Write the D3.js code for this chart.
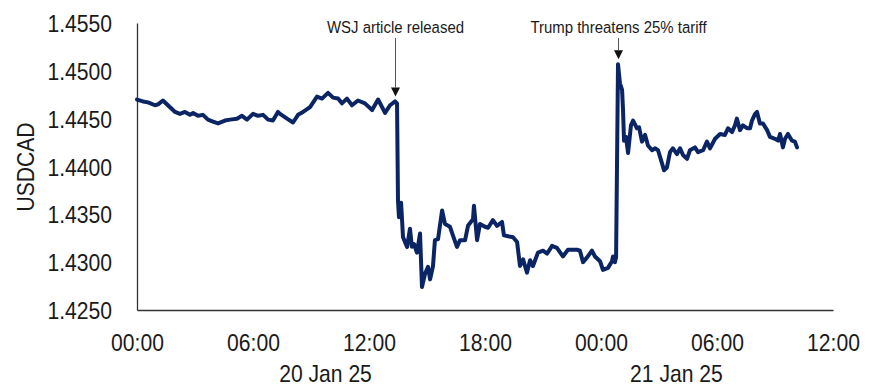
<!DOCTYPE html>
<html>
<head>
<meta charset="utf-8">
<script src="https://cdn.jsdelivr.net/npm/d3@7"></script>
<style>
  html, body { margin: 0; padding: 0; background: #fff; }
  svg { display: block; font-family: "Liberation Sans", Arial, sans-serif; }
</style>
</head>
<body>
<svg id="chart" width="877" height="387"></svg>
<script>
// USDCAD intraday, hours since 20 Jan 25 00:00
const hours = [
  0.00, 0.31, 0.57, 0.93, 1.09, 1.34, 1.60, 1.97, 2.22, 2.48, 2.74, 2.90, 3.16, 3.41, 3.67, 3.93,
  4.19, 4.55, 4.81, 5.17, 5.43, 5.69, 6.00, 6.26, 6.52, 6.78, 7.03, 7.29, 7.40, 7.76, 8.07, 8.33,
  8.59, 8.95, 9.31, 9.57, 9.88, 10.14, 10.40, 10.60, 10.86, 11.12, 11.43, 11.79, 12.16, 12.47, 12.83, 13.09,
  13.35, 13.45, 13.50, 13.55, 13.66, 13.76, 13.97, 14.12, 14.22, 14.33, 14.48, 14.64, 14.74, 14.90, 15.05, 15.16,
  15.31, 15.41, 15.57, 15.78, 15.93, 16.19, 16.34, 16.55, 16.71, 16.97, 17.12, 17.38, 17.43, 17.59, 17.74, 18.00,
  18.16, 18.41, 18.62, 18.88, 18.98, 19.45, 19.66, 19.81, 19.97, 20.17, 20.33, 20.48, 20.74, 21.00, 21.21, 21.47,
  21.72, 22.03, 22.29, 22.76, 22.91, 23.07, 23.28, 23.53, 23.69, 23.95, 24.10, 24.36, 24.57, 24.62, 24.72, 24.78,
  24.88, 24.98, 25.09, 25.14, 25.19, 25.29, 25.40, 25.55, 25.66, 25.86, 25.97, 26.12, 26.28, 26.43, 26.64, 26.79,
  26.95, 27.16, 27.26, 27.41, 27.57, 27.72, 27.93, 28.09, 28.24, 28.45, 28.60, 28.86, 29.02, 29.28, 29.48, 29.64,
  29.90, 30.16, 30.41, 30.57, 30.78, 30.93, 31.03, 31.19, 31.34, 31.55, 31.71, 31.81, 31.97, 32.07, 32.22, 32.38,
  32.59, 32.74, 33.00, 33.16, 33.26, 33.41, 33.52, 33.67, 33.88, 34.03, 34.14
];
const usdcad = [
  1.4470, 1.4468, 1.4467, 1.4464, 1.4465, 1.4469, 1.4464, 1.4457, 1.4455, 1.4457, 1.4454, 1.4456, 1.4453, 1.4454, 1.4449, 1.4447,
  1.4445, 1.4448, 1.4449, 1.4450, 1.4453, 1.4449, 1.4455, 1.4453, 1.4454, 1.4449, 1.4448, 1.4457, 1.4455, 1.4450, 1.4446, 1.4454,
  1.4457, 1.4462, 1.4473, 1.4471, 1.4477, 1.4472, 1.4471, 1.4466, 1.4471, 1.4464, 1.4469, 1.4466, 1.4459, 1.4470, 1.4456, 1.4464,
  1.4468, 1.4466, 1.4364, 1.4347, 1.4362, 1.4326, 1.4316, 1.4335, 1.4316, 1.4319, 1.4310, 1.4330, 1.4274, 1.4288, 1.4295, 1.4282,
  1.4296, 1.4323, 1.4324, 1.4354, 1.4340, 1.4337, 1.4328, 1.4316, 1.4323, 1.4323, 1.4338, 1.4345, 1.4359, 1.4323, 1.4340, 1.4337,
  1.4336, 1.4344, 1.4338, 1.4342, 1.4328, 1.4326, 1.4321, 1.4296, 1.4303, 1.4289, 1.4302, 1.4296, 1.4310, 1.4312, 1.4309, 1.4317,
  1.4315, 1.4306, 1.4313, 1.4313, 1.4312, 1.4300, 1.4305, 1.4312, 1.4306, 1.4301, 1.4292, 1.4294, 1.4301, 1.4306, 1.4300, 1.4305,
  1.4507, 1.4487, 1.4480, 1.4459, 1.4427, 1.4431, 1.4414, 1.4443, 1.4448, 1.4440, 1.4441, 1.4426, 1.4433, 1.4422, 1.4417, 1.4419,
  1.4417, 1.4403, 1.4396, 1.4399, 1.4415, 1.4419, 1.4413, 1.4419, 1.4412, 1.4408, 1.4417, 1.4420, 1.4415, 1.4417, 1.4426, 1.4419,
  1.4429, 1.4434, 1.4433, 1.4440, 1.4436, 1.4443, 1.4450, 1.4438, 1.4443, 1.4440, 1.4440, 1.4448, 1.4455, 1.4457, 1.4445, 1.4445,
  1.4438, 1.4431, 1.4429, 1.4427, 1.4434, 1.4420, 1.4429, 1.4434, 1.4427, 1.4426, 1.4420
];

const yTicks = [1.4250, 1.4300, 1.4350, 1.4400, 1.4450, 1.4500, 1.4550];
const xTicks = [0, 6, 12, 18, 24, 30, 36];
const xTickLabels = ["00:00", "06:00", "12:00", "18:00", "00:00", "06:00", "12:00"];
const dayLabels = ["20 Jan 25", "21 Jan 25"];
const dayLabelHours = [9.75, 27.9];
const eventLabels = ["WSJ article released", "Trump threatens 25% tariff"];
const eventHours = [13.35, 24.88];
const eventValues = [1.4468, 1.4507];

const W = 877, H = 387;
const m = { left: 137, right: 44, top: 23, bottom: 77 };
const squeeze = 0.88;           // condensed look for all text
const inkColor = "#1a1a1a";
const lineColor = "#0b2464";

const svg = d3.select("#chart");

const x = d3.scaleLinear().domain([0, 36]).range([m.left, W - m.right]);
const y = d3.scaleLinear().domain([1.425, 1.455]).range([H - m.bottom, m.top]);

// y axis
const yAxis = svg.append("g")
  .attr("transform", `translate(${m.left},0)`)
  .call(d3.axisLeft(y).tickValues(yTicks).tickFormat(d3.format(".4f")).tickSize(0).tickSizeOuter(0));
yAxis.select(".domain").attr("stroke", "#333").attr("stroke-width", 1.3);
yAxis.selectAll("text")
  .attr("x", -25 / squeeze)
  .attr("dy", "0.36em")
  .attr("transform", `scale(${squeeze},1)`)
  .style("font-size", "24px")
  .style("font-family", "'Liberation Sans', Arial, sans-serif")
  .attr("fill", inkColor);

// x axis
const xAxis = svg.append("g")
  .attr("transform", `translate(0,${H - m.bottom})`)
  .call(d3.axisBottom(x).tickValues(xTicks).tickFormat((d, i) => xTickLabels[i]).tickSize(0).tickSizeOuter(0));
xAxis.select(".domain").attr("stroke", "#333").attr("stroke-width", 1.3);
xAxis.selectAll("text")
  .attr("y", 0)
  .attr("dy", 0)
  .attr("transform", `translate(0,41) scale(${squeeze},1)`)
  .style("font-size", "24px")
  .style("font-family", "'Liberation Sans', Arial, sans-serif")
  .attr("fill", inkColor);

// date labels under the hour ticks
svg.append("g").selectAll("text")
  .data(dayLabels)
  .join("text")
  .attr("transform", (d, i) => `translate(${x(dayLabelHours[i])},382) scale(${squeeze},1)`)
  .attr("text-anchor", "middle")
  .style("font-size", "24px")
  .attr("fill", inkColor)
  .text(d => d);

// y axis title
svg.append("text")
  .attr("transform", `translate(34,167) rotate(-90) scale(${squeeze},1)`)
  .attr("text-anchor", "middle")
  .style("font-size", "24px")
  .attr("fill", inkColor)
  .text("USDCAD");

// price line
const pts = hours.map((h, i) => [h, usdcad[i]]);
svg.append("path")
  .datum(pts)
  .attr("fill", "none")
  .attr("stroke", lineColor)
  .attr("stroke-width", 4)
  .attr("stroke-linejoin", "round")
  .attr("stroke-linecap", "round")
  .attr("d", d3.line().x(d => x(d[0])).y(d => y(d[1])));

// event annotations with arrows
const ev = svg.append("g").selectAll("g")
  .data(eventLabels)
  .join("g")
  .attr("transform", (d, i) => `translate(${Math.round(x(eventHours[i])) + 0.5},0)`);

ev.append("text")
  .attr("transform", `translate(0,33) scale(${squeeze},1)`)
  .attr("text-anchor", "middle")
  .style("font-size", "17px")
  .attr("fill", inkColor)
  .text(d => d);

ev.append("line")
  .attr("x1", 0).attr("x2", 0)
  .attr("y1", 38)
  .attr("y2", (d, i) => y(eventValues[i]) - 14)
  .attr("stroke", "#555")
  .attr("stroke-width", 1);

ev.append("path")
  .attr("d", (d, i) => {
    const tip = y(eventValues[i]) - 5;
    return `M-4.5,${tip - 9}L4.5,${tip - 9}L0,${tip}Z`;
  })
  .attr("fill", "#111");
</script>
</body>
</html>
